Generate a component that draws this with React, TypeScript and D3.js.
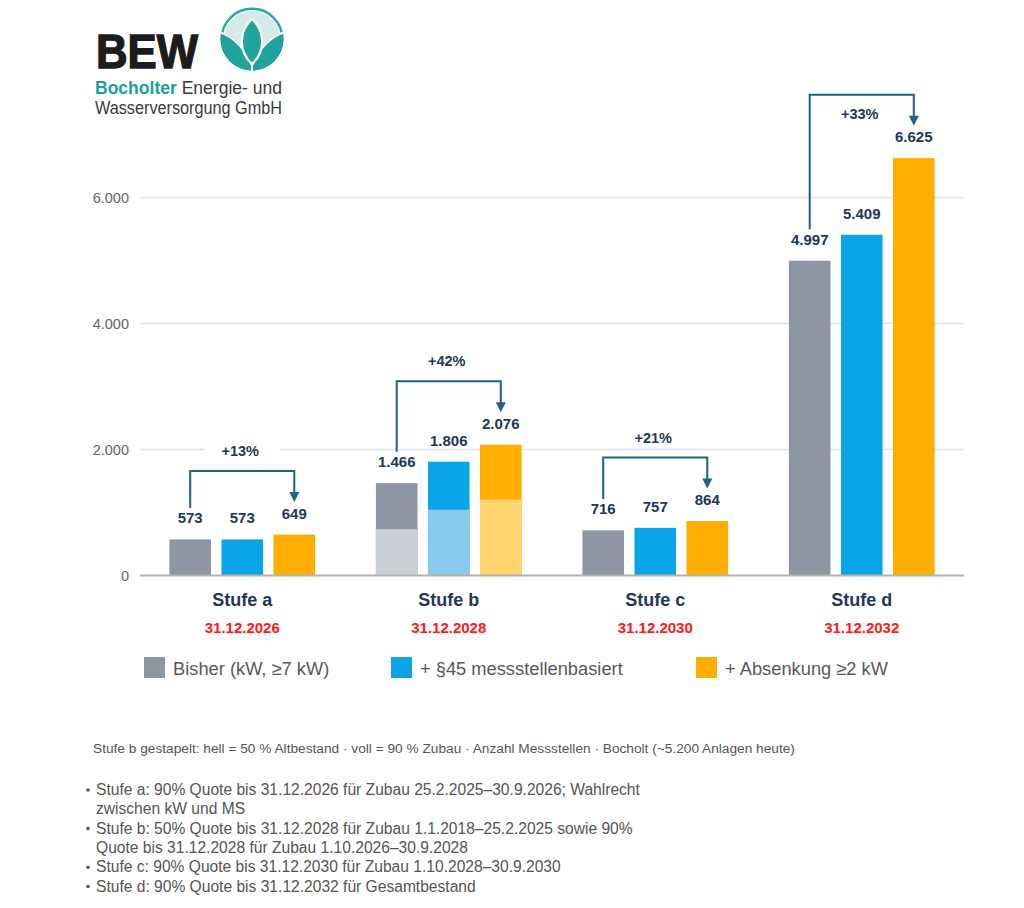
import React from "react";
import * as d3 from "d3";

// Stages and their deadlines
const stages = ["Stufe a", "Stufe b", "Stufe c", "Stufe d"];
const deadlines = ["31.12.2026", "31.12.2028", "31.12.2030", "31.12.2032"];

// Series (number of metering points)
const seriesNames = ["Bisher (kW, ≥7 kW)", "+ §45 messstellenbasiert", "+ Absenkung ≥2 kW"];
const bisher = [573, 1466, 716, 4997];
const messstellen = [573, 1806, 757, 5409];
const absenkung = [649, 2076, 864, 6625];

// Stufe b stacked: lower (light) share = 50 % Altbestand
const stufeBAltbestand = [733, 1045, 1205];

const increaseLabels = ["+13%", "+42%", "+21%", "+33%"];
const yTicks = [0, 2000, 4000, 6000];

const footnoteHeader =
  "Stufe b gestapelt: hell = 50 % Altbestand · voll = 90 % Zubau · Anzahl Messstellen · Bocholt (~5.200 Anlagen heute)";
const bulletNotes = [
  ["Stufe a: 90% Quote bis 31.12.2026 für Zubau 25.2.2025–30.9.2026; Wahlrecht", "zwischen kW und MS"],
  ["Stufe b: 50% Quote bis 31.12.2028 für Zubau 1.1.2018–25.2.2025 sowie 90%", "Quote bis 31.12.2028 für Zubau 1.10.2026–30.9.2028"],
  ["Stufe c: 90% Quote bis 31.12.2030 für Zubau 1.10.2028–30.9.2030"],
  ["Stufe d: 90% Quote bis 31.12.2032 für Gesamtbestand"],
];

const COLORS = ["#8d96a2", "#0ca4e8", "#ffad00"];
const LIGHT = ["#cbd0d7", "#88cbef", "#ffd46f"];
const NAVY = "#22375a";
const ARROW = "#1f6282";
const FONT = "'Liberation Sans', Arial, sans-serif";

const de = d3.formatLocale({ decimal: ",", thousands: ".", grouping: [3], currency: ["", " €"] });
const fmt = de.format(",d");

function Logo() {
  const cx = 252;
  const cy = 39;
  const r = 31.5;
  const teal = "#1fa39c";
  return (
    <g>
      <text x={96} y={67.5} fontFamily={FONT} fontWeight="bold" fontSize={49} fill="#1c1c1c" stroke="#1c1c1c" strokeWidth={1.4} textLength={102} lengthAdjust="spacingAndGlyphs">
        BEW
      </text>
      <defs>
        <clipPath id="lotusClip">
          <circle cx={cx} cy={cy} r={r} />
        </clipPath>
      </defs>
      <circle cx={cx} cy={cy} r={r - 1.2} fill="none" stroke="#2aa9a3" strokeWidth={2.4} />
      <circle cx={cx} cy={cy} r={r - 3.6} fill="#d3ecea" />
      <g clipPath="url(#lotusClip)">
        <path d={`M ${cx - 36} ${cy - 8} C ${cx - 20} ${cy - 4} ${cx - 6} ${cy + 10} ${cx} ${cy + 27} L ${cx} ${cy + 40} L ${cx - 40} ${cy + 40} Z`} fill={teal} stroke="#fff" strokeWidth={2} />
        <path d={`M ${cx + 36} ${cy - 8} C ${cx + 20} ${cy - 4} ${cx + 6} ${cy + 10} ${cx} ${cy + 27} L ${cx} ${cy + 40} L ${cx + 40} ${cy + 40} Z`} fill={teal} stroke="#fff" strokeWidth={2} />
        <path d={`M ${cx} ${cy - 20} C ${cx + 13} ${cy - 8} ${cx + 14} ${cy + 12} ${cx} ${cy + 25} C ${cx - 14} ${cy + 12} ${cx - 13} ${cy - 8} ${cx} ${cy - 20} Z`} fill={teal} stroke="#fff" strokeWidth={2.2} />
      </g>
      <text x={95} y={94} fontFamily={FONT} fontSize={17.5} textLength={187} lengthAdjust="spacingAndGlyphs">
        <tspan fill="#1b9f99" fontWeight="bold">Bocholter</tspan>
        <tspan fill="#3a3a3a"> Energie- und</tspan>
      </text>
      <text x={95} y={114} fontFamily={FONT} fontSize={17.5} fill="#3a3a3a" textLength={187} lengthAdjust="spacingAndGlyphs">
        Wasserversorgung GmbH
      </text>
    </g>
  );
}

export default function App() {
  const width = 1024;
  const height = 908;

  const x = d3.scaleBand<string>().domain(stages).range([139, 965]).paddingInner(0).paddingOuter(0);
  const xs = d3.scaleBand<number>().domain([0, 1, 2]).range([30.4, 176.1]).paddingInner(0.2).paddingOuter(0);
  const y = d3.scaleLinear().domain([0, 6000]).range([575.5, 197.5]);

  const values = [bisher, messstellen, absenkung];
  const labelBase = (v: number) => y(v) - 16;
  const labelTop = (v: number) => labelBase(v) - 11;

  return (
    <svg width={width} height={height} style={{ position: "absolute", left: 0, top: 0, background: "#fff" }}>
      <rect width={width} height={height} fill="#fff" />
      <Logo />

      {/* grid */}
      {yTicks.map((t) => (
        <g key={t}>
          {t > 0 && <line x1={140} x2={964} y1={y(t)} y2={y(t)} stroke="#dfe3ea" strokeWidth={1.3} />}
          <text x={129} y={y(t) + 5} textAnchor="end" fontFamily={FONT} fontSize={14.5} fill="#666">
            {fmt(t)}
          </text>
        </g>
      ))}

      {/* bars */}
      {stages.map((s, i) => (
        <g key={s} transform={`translate(${x(s)},0)`}>
          {values.map((series, k) => {
            const v = series[i];
            const bx = xs(k)!;
            const bw = xs.bandwidth();
            return (
              <g key={k}>
                <rect x={bx} width={bw} y={y(v)} height={y(0) - y(v)} fill={COLORS[k]} />
                {s === "Stufe b" && (
                  <rect x={bx} width={bw} y={y(stufeBAltbestand[k])} height={y(0) - y(stufeBAltbestand[k])} fill={LIGHT[k]} />
                )}
                <text x={bx + bw / 2} y={labelBase(v)} textAnchor="middle" fontFamily={FONT} fontWeight="bold" fontSize={15} fill={NAVY}>
                  {fmt(v)}
                </text>
              </g>
            );
          })}
        </g>
      ))}

      {/* baseline */}
      <line x1={140} x2={964} y1={y(0)} y2={y(0)} stroke="#b6b1aa" strokeWidth={2} />

      {/* increase brackets */}
      {stages.map((s, i) => {
        const x0 = x(s)! + xs(0)! + xs.bandwidth() / 2;
        const x2 = x(s)! + xs(2)! + xs.bandwidth() / 2;
        const cxg = x(s)! + x.bandwidth() / 2;
        const top = labelTop(absenkung[i]) - 36.5;
        const leftBottom = labelTop(bisher[i]) - 4.5;
        const tip = labelTop(absenkung[i]) - 5.5;
        const inside = top - 20 < 100;
        const ty = inside ? top + 19 : top - 20;
        return (
          <g key={s}>
            {!inside && <rect x={cxg - 38} y={ty - 9} width={76} height={18} fill="#fff" />}
            <path d={`M ${x0} ${leftBottom} V ${top} H ${x2} V ${tip - 9}`} fill="none" stroke={ARROW} strokeWidth={2} />
            <path d={`M ${x2 - 5} ${tip - 10} L ${x2 + 5} ${tip - 10} L ${x2} ${tip} Z`} fill={ARROW} />
            <text x={cxg - 2} y={ty + 5} textAnchor="middle" fontFamily={FONT} fontWeight="bold" fontSize={14.5} fill={NAVY}>
              {increaseLabels[i]}
            </text>
          </g>
        );
      })}

      {/* category labels */}
      {stages.map((s, i) => {
        const cxg = x(s)! + x.bandwidth() / 2;
        return (
          <g key={s}>
            <text x={cxg} y={606} textAnchor="middle" fontFamily={FONT} fontWeight="bold" fontSize={18} fill={NAVY}>
              {s}
            </text>
            <text x={cxg} y={633} textAnchor="middle" fontFamily={FONT} fontWeight="bold" fontSize={15} fill="#ff1a1a">
              {deadlines[i]}
            </text>
          </g>
        );
      })}

      {/* legend */}
      {seriesNames.map((n, k) => {
        const lx = [144, 391, 696][k];
        return (
          <g key={n}>
            <rect x={lx} y={657} width={21} height={21} fill={COLORS[k]} />
            <text x={lx + 29} y={675} fontFamily={FONT} fontSize={18.3} fill="#595959">
              {n}
            </text>
          </g>
        );
      })}

      {/* footnotes */}
      <text x={93} y={753} fontFamily={FONT} fontSize={13.7} fill="#555">
        {footnoteHeader}
      </text>
      {(() => {
        let line = 0;
        return bulletNotes.map((lines, bi) => (
          <g key={bi}>
            {lines.map((t, li) => {
              const yy = 795 + (line++) * 19.3;
              return (
                <g key={li}>
                  {li === 0 && <circle cx={88} cy={yy - 5} r={1.8} fill="#555" />}
                  <text x={96} y={yy} fontFamily={FONT} fontSize={15.6} fill="#555">
                    {t}
                  </text>
                </g>
              );
            })}
          </g>
        ));
      })()}
    </svg>
  );
}
